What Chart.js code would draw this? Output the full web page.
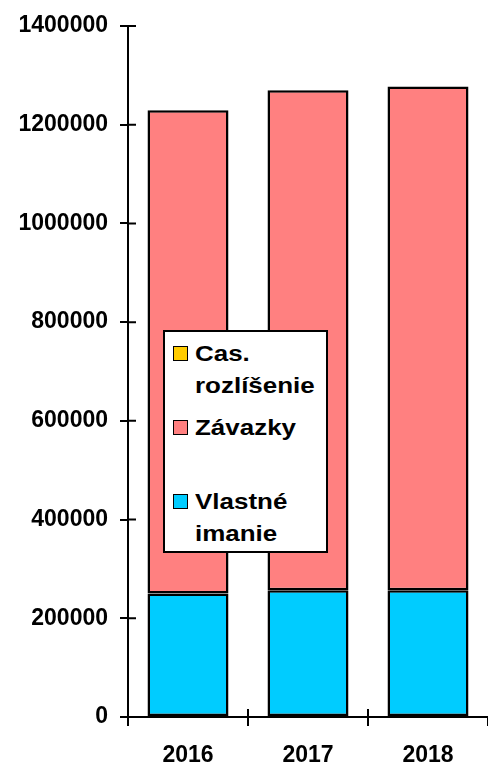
<!DOCTYPE html>
<html>
<head>
<meta charset="utf-8">
<script src="https://cdn.jsdelivr.net/npm/chart.js@4"></script>
<style>
body{margin:0;background:#fff;}
#wrap{position:relative;width:488px;height:765px;}
#legend{position:absolute;left:163px;top:330px;width:161px;height:219px;border:2px solid #000;background:#fff;
    font-family:"Liberation Sans";font-weight:bold;font-size:22px;color:#000;}
.item{position:absolute;left:8px;line-height:32px;}
.box{position:absolute;left:0;top:8px;width:13px;height:13px;border:1.5px solid #000;}
.txt{position:absolute;left:22px;top:0;white-space:nowrap;transform:scaleX(1.18);transform-origin:0 0;}
</style>
</head>
<body>
<div id="wrap">
<canvas id="chart" width="488" height="765"></canvas>
<div id="legend"></div>
</div>
<script>
const years=["2016","2017","2018"];
const vlastneImanie=[250000,256700,256700];
const zavazky=[979400,1013200,1020700];
const casRozlisenie=[0,0,0];
const yTicks=[0,200000,400000,600000,800000,1000000,1200000,1400000];

const tickFont={family:"Liberation Sans",weight:"bold",size:23};

// inner half of the tick marks (the outer half is drawn by Chart.js)
const innerTicks={
    id:"innerTicks",
    afterDraw(chart){
        const ctx=chart.ctx;
        const area=chart.chartArea;
        const y=chart.scales.y;
        const x=chart.scales.x;
        ctx.save();
        ctx.strokeStyle="#000";
        ctx.lineWidth=2;
        ctx.beginPath();
        y.ticks.forEach((t,i)=>{
            const py=y.getPixelForTick(i);
            ctx.moveTo(area.left,py);
            ctx.lineTo(area.left+8,py);
        });
        for(let i=1;i<years.length;i++){
            const px=(x.getPixelForValue(i-1)+x.getPixelForValue(i))/2;
            ctx.moveTo(px,area.bottom);
            ctx.lineTo(px,area.bottom-8);
        }
        ctx.stroke();
        ctx.restore();
    }
};

const chart=new Chart(document.getElementById("chart"),{
    type:"bar",
    data:{
        labels:years,
        datasets:[
            {label:"Vlastné imanie",data:vlastneImanie,backgroundColor:"#00CCFF"},
            {label:"Závazky",data:zavazky,backgroundColor:"#FF8080"},
            {label:"Cas. rozlíšenie",data:casRozlisenie,backgroundColor:"#FFCC00"}
        ].map(d=>Object.assign(d,{borderColor:"#000",borderWidth:2.5,borderSkipped:false,inflateAmount:0,barPercentage:0.675,categoryPercentage:1}))
    },
    options:{
        responsive:false,
        animation:false,
        layout:{padding:{top:26,left:0,right:0,bottom:0}},
        plugins:{legend:{display:false},tooltip:{enabled:false}},
        scales:{
            x:{
                stacked:true,
                grid:{drawOnChartArea:false,drawTicks:true,tickLength:9,lineWidth:2,offset:true,
                    color:c=>c.index===years.length?"rgba(0,0,0,0)":"#000"},
                border:{color:"#000",width:2},
                ticks:{color:"#000",font:tickFont,padding:16},
                afterFit(s){s.height=48;}
            },
            y:{
                stacked:true,
                min:0,
                max:1400000,
                afterBuildTicks(s){s.ticks=yTicks.map(v=>({value:v}));},
                grid:{drawOnChartArea:false,drawTicks:true,tickLength:8,color:"#000",lineWidth:2},
                border:{color:"#000",width:2},
                ticks:{color:"#000",font:tickFont,padding:12,callback:v=>String(v)},
                afterFit(s){s.width=128;}
            }
        }
    },
    plugins:[innerTicks]
});

// legend inside the plot, top item first
const legend=document.getElementById("legend");
const tops=[6,80,154];
const names=[["Cas.","rozlíšenie"],["Závazky"],["Vlastné","imanie"]];
chart.data.datasets.slice().reverse().forEach((d,i)=>{
    const item=document.createElement("div");
    item.className="item";
    item.style.top=tops[i]+"px";
    item.innerHTML=`<div class="box" style="background:${d.backgroundColor}"></div><div class="txt">${names[i].join("<br>")}</div>`;
    legend.appendChild(item);
});
</script>
</body>
</html>
